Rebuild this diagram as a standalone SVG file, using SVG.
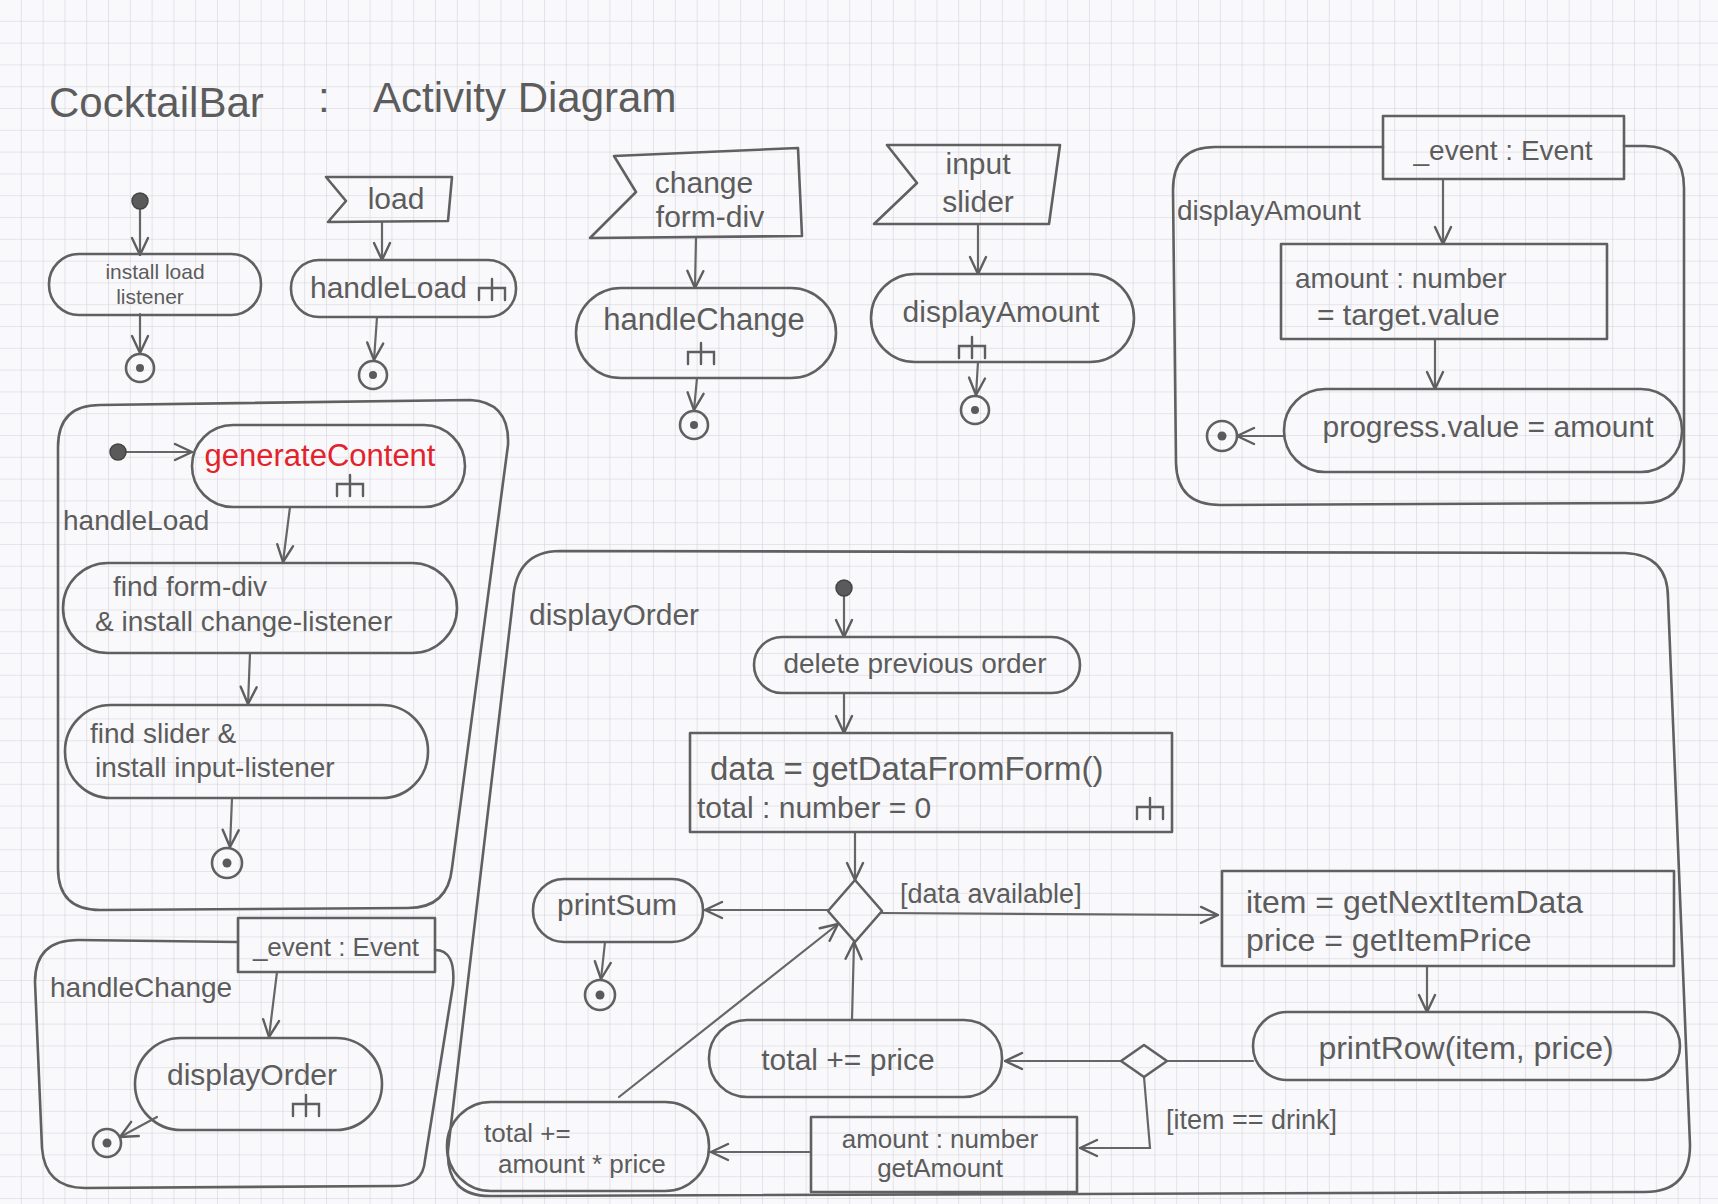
<svg xmlns="http://www.w3.org/2000/svg" width="1718" height="1204" viewBox="0 0 1718 1204">
<style>
.s{fill:none;stroke:#606060;stroke-width:2.6;stroke-linejoin:round;stroke-linecap:round}
.c{fill:none;stroke:#666;stroke-width:2.2;stroke-linecap:round}
.t{font-family:"Liberation Sans",Arial,sans-serif;fill:#5c5c5c}
.m{text-anchor:middle}
.red{fill:#e2232b}
.init{fill:#5a5a5a;stroke:#444;stroke-width:1.5}
.dot{fill:#5a5a5a}
</style>
<defs>
<pattern id="grid" width="21.8" height="21.8" patternUnits="userSpaceOnUse">
<path d="M21.8 0 V21.8 M0 21.8 H21.8" stroke="#d2cfdc" stroke-width="1.1" fill="none"/>
</pattern>
<marker id="arr" viewBox="0 0 20 20" refX="19" refY="10" markerWidth="20" markerHeight="20" markerUnits="userSpaceOnUse" orient="auto">
<path d="M2,2 L19,10 L2,18" fill="none" stroke="#5e5e5e" stroke-width="2.4" stroke-linecap="round" stroke-linejoin="round"/>
</marker>
<path id="rake" d="M0,-9 V12 M-13,12 V0 H13 V12" fill="none" stroke="#5e5e5e" stroke-width="2.4" stroke-linecap="round"/>
</defs>
<rect width="1718" height="1204" fill="#f9f9fb"/>
<rect width="1718" height="1204" fill="url(#grid)"/>

<g id="title">
<text class="t" x="49" y="117" font-size="42">CocktailBar</text>
<text class="t" x="318" y="112" font-size="42">:</text>
<text class="t" x="373" y="112" font-size="42">Activity Diagram</text>
</g>

<!-- frames -->
<g id="frame-handleLoad">
<path class="s" d="M100,405 L470,400 Q510,402 508,445 L452,868 Q448,908 408,908 L100,910 Q58,910 58,868 L58,447 Q58,405 100,405 Z"/>
<text class="t" x="63" y="530" font-size="28">handleLoad</text>
</g>
<g id="frame-handleChange">
<path class="s" d="M238,942 L78,940 Q35,940 35,982 L42,1148 Q45,1188 85,1188 L395,1186 Q423,1186 425,1160 L453,985 Q456,950 435,950"/>
<text class="t" x="50" y="997" font-size="28">handleChange</text>
</g>
<g id="frame-displayAmount">
<path class="s" d="M1383,147 L1215,147 Q1173,147 1173,190 L1176,463 Q1177,505 1220,505 L1643,503 Q1684,503 1684,462 L1684,188 Q1684,146 1645,146 L1624,146"/>
<text class="t" x="1177" y="220" font-size="28">displayAmount</text>
</g>
<g id="frame-displayOrder">
<path class="s" d="M560,551 L1625,553 Q1668,555 1668,598 L1690,1145 Q1690,1192 1645,1192 L490,1196 Q446,1196 448,1150 L513,600 Q516,551 560,551 Z"/>
<text class="t" x="529" y="625" font-size="30">displayOrder</text>
</g>

<g id="connectors">
<line class="c" x1="140" y1="208" x2="140" y2="255" marker-end="url(#arr)"/>
<line class="c" x1="140" y1="314" x2="140" y2="353" marker-end="url(#arr)"/>
<line class="c" x1="382" y1="222" x2="382" y2="260" marker-end="url(#arr)"/>
<line class="c" x1="377" y1="317" x2="374" y2="360" marker-end="url(#arr)"/>
<line class="c" x1="696" y1="237" x2="695" y2="288" marker-end="url(#arr)"/>
<line class="c" x1="697" y1="378" x2="694" y2="410" marker-end="url(#arr)"/>
<line class="c" x1="978" y1="224" x2="978" y2="274" marker-end="url(#arr)"/>
<line class="c" x1="978" y1="362" x2="976" y2="395" marker-end="url(#arr)"/>
<line class="c" x1="1443" y1="179" x2="1443" y2="244" marker-end="url(#arr)"/>
<line class="c" x1="1435" y1="339" x2="1435" y2="389" marker-end="url(#arr)"/>
<line class="c" x1="1284" y1="436" x2="1237" y2="436" marker-end="url(#arr)"/>
<line class="c" x1="126" y1="452" x2="192" y2="452" marker-end="url(#arr)"/>
<line class="c" x1="290" y1="507" x2="283" y2="562" marker-end="url(#arr)"/>
<line class="c" x1="250" y1="653" x2="248" y2="704" marker-end="url(#arr)"/>
<line class="c" x1="232" y1="798" x2="230" y2="847" marker-end="url(#arr)"/>
<line class="c" x1="277" y1="972" x2="269" y2="1037" marker-end="url(#arr)"/>
<line class="c" x1="157" y1="1117" x2="120" y2="1137" marker-end="url(#arr)"/>
<line class="c" x1="844" y1="596" x2="844" y2="637" marker-end="url(#arr)"/>
<line class="c" x1="844" y1="693" x2="844" y2="733" marker-end="url(#arr)"/>
<line class="c" x1="855" y1="832" x2="855" y2="880" marker-end="url(#arr)"/>
<line class="c" x1="828" y1="910" x2="705" y2="910" marker-end="url(#arr)"/>
<line class="c" x1="605" y1="942" x2="601" y2="979" marker-end="url(#arr)"/>
<line class="c" x1="882" y1="913" x2="1218" y2="915" marker-end="url(#arr)"/>
<line class="c" x1="1427" y1="966" x2="1427" y2="1012" marker-end="url(#arr)"/>
<line class="c" x1="1253" y1="1061" x2="1167" y2="1061"/>
<line class="c" x1="1121" y1="1061" x2="1005" y2="1061" marker-end="url(#arr)"/>
<polyline class="c" points="1144,1077 1150,1148 1080,1148" marker-end="url(#arr)"/>
<line class="c" x1="811" y1="1152" x2="711" y2="1152" marker-end="url(#arr)"/>
<line class="c" x1="619" y1="1097" x2="838" y2="924" marker-end="url(#arr)"/>
<line class="c" x1="852" y1="1020" x2="854" y2="942" marker-end="url(#arr)"/>
</g>

<!-- top row -->
<g id="init1"><circle class="init" cx="140" cy="201" r="8"/></g>
<g id="installLoadListener">
<rect class="s" x="49" y="254" width="212" height="61" rx="30"/>
<text class="t m" x="155" y="279" font-size="21">install load</text>
<text class="t m" x="150" y="304" font-size="21">listener</text>
</g>
<g id="final1"><circle class="s" cx="140" cy="368" r="14"/><circle class="dot" cx="140" cy="368" r="4"/></g>

<g id="sigLoad">
<polygon class="s" points="326,177 452,177 448,221 328,222 346,201"/>
<text class="t m" x="396" y="209" font-size="30">load</text>
</g>
<g id="handleLoadCall">
<rect class="s" x="291" y="260" width="225" height="57" rx="28"/>
<text class="t" x="310" y="298" font-size="30">handleLoad</text>
<use href="#rake" x="492" y="288"/>
</g>
<g id="final2"><circle class="s" cx="373" cy="375" r="14"/><circle class="dot" cx="373" cy="375" r="4"/></g>

<g id="sigChange">
<polygon class="s" points="614,156 798,148 802,236 590,238 636,192"/>
<text class="t m" x="704" y="193" font-size="30">change</text>
<text class="t m" x="710" y="227" font-size="30">form-div</text>
</g>
<g id="handleChangeCall">
<rect class="s" x="576" y="288" width="260" height="90" rx="45"/>
<text class="t m" x="704" y="330" font-size="31">handleChange</text>
<use href="#rake" x="701" y="352"/>
</g>
<g id="final3"><circle class="s" cx="694" cy="425" r="14"/><circle class="dot" cx="694" cy="425" r="4"/></g>

<g id="sigInput">
<polygon class="s" points="887,145 1060,145 1049,224 874,224 917,183"/>
<text class="t m" x="978" y="174" font-size="30">input</text>
<text class="t m" x="978" y="212" font-size="30">slider</text>
</g>
<g id="displayAmountCall">
<rect class="s" x="871" y="274" width="263" height="88" rx="44"/>
<text class="t m" x="1001" y="322" font-size="30">displayAmount</text>
<use href="#rake" x="972" y="346"/>
</g>
<g id="final4"><circle class="s" cx="975" cy="410" r="14"/><circle class="dot" cx="975" cy="410" r="4"/></g>

<!-- displayAmount -->
<g id="pinEventDA">
<rect class="s" x="1383" y="116" width="241" height="63"/>
<text class="t m" x="1503" y="160" font-size="28">_event : Event</text>
</g>
<g id="amountAssign">
<rect class="s" x="1281" y="244" width="326" height="95"/>
<text class="t" x="1295" y="288" font-size="28">amount : number</text>
<text class="t" x="1317" y="325" font-size="30">= target.value</text>
</g>
<g id="progressValue">
<rect class="s" x="1284" y="389" width="398" height="83" rx="41"/>
<text class="t m" x="1488" y="437" font-size="30">progress.value = amount</text>
</g>
<g id="finalDA"><circle class="s" cx="1222" cy="436" r="15"/><circle class="dot" cx="1222" cy="436" r="4.5"/></g>

<!-- handleLoad -->
<g id="initHL"><circle class="init" cx="118" cy="452" r="8"/></g>
<g id="generateContent">
<rect class="s" x="192" y="425" width="273" height="82" rx="41"/>
<text class="t m red" x="320" y="466" font-size="31">generateContent</text>
<use href="#rake" x="350" y="484"/>
</g>
<g id="findFormDiv">
<rect class="s" x="63" y="563" width="394" height="90" rx="45"/>
<text class="t" x="113" y="596" font-size="28">find form-div</text>
<text class="t" x="95" y="631" font-size="28">&amp; install change-listener</text>
</g>
<g id="findSlider">
<rect class="s" x="65" y="705" width="363" height="93" rx="46"/>
<text class="t" x="90" y="743" font-size="28">find slider &amp;</text>
<text class="t" x="95" y="777" font-size="28">install input-listener</text>
</g>
<g id="finalHL"><circle class="s" cx="227" cy="863" r="15"/><circle class="dot" cx="227" cy="863" r="4.5"/></g>

<!-- handleChange -->
<g id="pinEventHC">
<rect class="s" x="238" y="918" width="197" height="54"/>
<text class="t m" x="336" y="956" font-size="26">_event : Event</text>
</g>
<g id="displayOrderCall">
<rect class="s" x="135" y="1038" width="247" height="92" rx="46"/>
<text class="t m" x="252" y="1085" font-size="30">displayOrder</text>
<use href="#rake" x="306" y="1104"/>
</g>
<g id="finalHC"><circle class="s" cx="107" cy="1143" r="14"/><circle class="dot" cx="107" cy="1143" r="4.5"/></g>

<!-- displayOrder -->
<g id="initDO"><circle class="init" cx="844" cy="588" r="8"/></g>
<g id="deletePrevious">
<rect class="s" x="754" y="637" width="326" height="56" rx="28"/>
<text class="t m" x="915" y="673" font-size="28">delete previous order</text>
</g>
<g id="getData">
<rect class="s" x="690" y="733" width="482" height="99"/>
<text class="t" x="710" y="780" font-size="33">data = getDataFromForm()</text>
<text class="t" x="697" y="818" font-size="30">total : number = 0</text>
<use href="#rake" x="1150" y="807"/>
</g>
<g id="decision1">
<polygon class="s" points="855,880 882,911 855,942 828,911"/>
</g>
<g id="printSum">
<rect class="s" x="533" y="879" width="170" height="63" rx="31"/>
<text class="t m" x="617" y="915" font-size="30">printSum</text>
</g>
<g id="finalDO"><circle class="s" cx="600" cy="995" r="15"/><circle class="dot" cx="600" cy="995" r="4.5"/></g>
<g id="guardData"><text class="t" x="900" y="903" font-size="27">[data available]</text></g>
<g id="getItem">
<rect class="s" x="1222" y="871" width="452" height="95"/>
<text class="t" x="1246" y="913" font-size="32">item = getNextItemData</text>
<text class="t" x="1246" y="951" font-size="32">price = getItemPrice</text>
</g>
<g id="printRow">
<rect class="s" x="1253" y="1012" width="427" height="68" rx="34"/>
<text class="t m" x="1466" y="1059" font-size="32">printRow(item, price)</text>
</g>
<g id="decision2">
<polygon class="s" points="1121,1061 1144,1045 1167,1061 1144,1077"/>
</g>
<g id="guardDrink"><text class="t" x="1166" y="1129" font-size="27">[item == drink]</text></g>
<g id="totalPrice">
<rect class="s" x="709" y="1020" width="293" height="77" rx="38"/>
<text class="t m" x="848" y="1070" font-size="30">total += price</text>
</g>
<g id="getAmount">
<rect class="s" x="811" y="1117" width="266" height="75"/>
<text class="t m" x="940" y="1148" font-size="26">amount : number</text>
<text class="t m" x="940" y="1177" font-size="26">getAmount</text>
</g>
<g id="totalAmountPrice">
<rect class="s" x="447" y="1102" width="262" height="89" rx="44"/>
<text class="t" x="484" y="1142" font-size="26">total +=</text>
<text class="t" x="498" y="1173" font-size="26">amount * price</text>
</g>
</svg>
